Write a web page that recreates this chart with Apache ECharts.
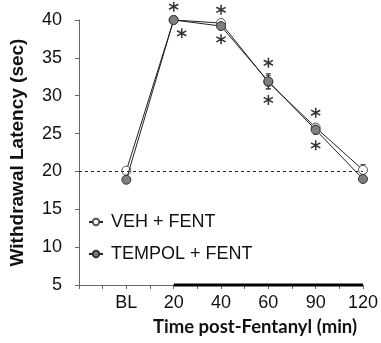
<!DOCTYPE html>
<html>
<head>
<meta charset="utf-8">
<script src="https://cdn.jsdelivr.net/npm/echarts@6/dist/echarts.min.js"></script>
<style>
  html, body { margin: 0; padding: 0; background: #fff; }
  #chart { width: 381px; height: 343px; }
</style>
</head>
<body>
<div id="chart"></div>
<script>
// time points after baseline
const timeLabels = ["BL", "20", "40", "60", "90", "120"];
const vehFent = [20.1, 40.0, 39.6, 31.8, 25.8, 20.2];
const vehErr = [0.3, 0.3, 0.3, 0.9, 0.5, 0.7];
const tempolFent = [18.9, 40.0, 39.2, 31.9, 25.5, 19.0];
const tempolErr = [0.3, 0.3, 0.3, 1.0, 0.6, 0.3];
// time points marked with * above and below
const sigLabels = ["20", "40", "60", "90"];
const fentanylSpan = ["20", "120"];
const baselineLatency = 20;
const yTicks = [5, 10, 15, 20, 25, 30, 35, 40];

const FONT = "Liberation Sans";
const yMin = yTicks[0], yMax = yTicks[yTicks.length - 1];
const xOf = (lbl) => timeLabels.indexOf(lbl) + 1;

// six-armed asterisk, arms ~3 units thick
const ASTERISK = "path://M8.5 0L11.5 0L11.5 20L8.5 20Z" +
  "M1.59 3.66L19.61 13.66L18.11 16.26L0.09 6.26Z" +
  "M0.09 13.74L18.11 3.74L19.61 6.34L1.59 16.34Z";

const sigAbove = sigLabels.map((l) => {
  const i = timeLabels.indexOf(l);
  return [i + 1, Math.max(vehFent[i] + vehErr[i], tempolFent[i] + tempolErr[i])];
});
const sigBelow = sigLabels.map((l) => {
  const i = timeLabels.indexOf(l);
  return {
    value: [i + 1, Math.min(vehFent[i] - vehErr[i], tempolFent[i] - tempolErr[i])],
    symbolOffset: l === "20" ? [8, 11] : [0, 11],
  };
});

function errBars(vals, errs) {
  return vals.map((v, i) => [i + 1, v - errs[i], v + errs[i]]);
}

function renderErr(params, api) {
  const x = api.value(0);
  const lo = api.coord([x, api.value(1)]);
  const hi = api.coord([x, api.value(2)]);
  const w = 2.5;
  const style = { stroke: "#333", lineWidth: 1 };
  return {
    type: "group",
    children: [
      { type: "line", shape: { x1: lo[0], y1: lo[1], x2: hi[0], y2: hi[1] }, style },
      { type: "line", shape: { x1: lo[0] - w, y1: lo[1], x2: lo[0] + w, y2: lo[1] }, style },
      { type: "line", shape: { x1: hi[0] - w, y1: hi[1], x2: hi[0] + w, y2: hi[1] }, style },
    ],
  };
}

const chart = echarts.init(document.getElementById("chart"), null, { renderer: "canvas" });

chart.setOption({
  animation: false,
  textStyle: { fontFamily: FONT },
  grid: { left: 73, right: 18, top: 20, bottom: 58 },
  legend: {
    orient: "vertical",
    left: 83,
    top: 208,
    itemWidth: 14,
    itemHeight: 8,
    itemGap: 14,
    textStyle: { fontFamily: FONT, fontSize: 18, color: "#111", padding: [0, 0, 0, 3] },
    data: ["VEH + FENT", "TEMPOL + FENT"],
  },
  xAxis: {
    type: "value",
    min: 0,
    max: timeLabels.length,
    interval: 0.5,
    splitLine: { show: false },
    axisLine: { lineStyle: { color: "#666", width: 1 } },
    axisTick: { length: 4, lineStyle: { color: "#666" } },
    axisLabel: {
      fontFamily: FONT,
      fontSize: 18,
      color: "#111",
      margin: 9,
      formatter: (v) => (Number.isInteger(v) && v > 0 ? timeLabels[v - 1] : ""),
    },
    name: "Time post-Fentanyl (min)",
    nameLocation: "middle",
    nameGap: 33,
    nameTextStyle: {
      fontFamily: "Lato",
      fontWeight: "bold",
      fontSize: 18.5,
      color: "#111",
      padding: [0, 0, 0, 68],
    },
  },
  yAxis: {
    type: "value",
    min: yMin,
    max: yMax,
    interval: 5,
    splitLine: { show: false },
    axisLine: { show: true, lineStyle: { color: "#666", width: 1 } },
    axisTick: { show: true, length: 4, lineStyle: { color: "#666" } },
    axisLabel: { fontFamily: FONT, fontSize: 18, color: "#111", margin: 17 },
    name: "Withdrawal Latency (sec)",
    nameLocation: "middle",
    nameGap: 52,
    nameTextStyle: { fontFamily: FONT, fontSize: 19, fontWeight: "bold", color: "#111" },
  },
  series: [
    {
      name: "fentanyl",
      type: "line",
      data: fentanylSpan.map((l) => [xOf(l), yMin]),
      symbol: "none",
      lineStyle: { color: "#000", width: 3 },
      clip: false,
      silent: true,
      z: 5,
    },
    {
      name: "vehErr",
      type: "custom",
      renderItem: renderErr,
      data: errBars(vehFent, vehErr),
      z: 2,
    },
    {
      name: "VEH + FENT",
      type: "line",
      data: vehFent.map((v, i) => [i + 1, v]),
      symbol: "circle",
      symbolSize: 9,
      itemStyle: { color: "#fff", borderColor: "#555", borderWidth: 1 },
      lineStyle: { color: "#222", width: 1 },
      markLine: {
        silent: true,
        symbol: "none",
        label: { show: false },
        lineStyle: { color: "#222", type: [3, 3], width: 1 },
        data: [{ yAxis: baselineLatency }],
      },
      z: 3,
    },
    {
      name: "tempolErr",
      type: "custom",
      renderItem: renderErr,
      data: errBars(tempolFent, tempolErr),
      z: 4,
    },
    {
      name: "TEMPOL + FENT",
      type: "line",
      data: tempolFent.map((v, i) => [i + 1, v]),
      symbol: "circle",
      symbolSize: 9,
      itemStyle: { color: "#7f7f7f", borderColor: "#333", borderWidth: 1 },
      lineStyle: { color: "#222", width: 1 },
      z: 4,
    },
    {
      name: "sigAbove",
      type: "scatter",
      data: sigAbove,
      symbol: ASTERISK,
      symbolSize: 10,
      symbolOffset: [0, -11],
      itemStyle: { color: "#000" },
      clip: false,
      silent: true,
      z: 6,
    },
    {
      name: "sigBelow",
      type: "scatter",
      data: sigBelow,
      symbol: ASTERISK,
      symbolSize: 10,
      itemStyle: { color: "#000" },
      clip: false,
      silent: true,
      z: 6,
    },
  ],
});
</script>
</body>
</html>
